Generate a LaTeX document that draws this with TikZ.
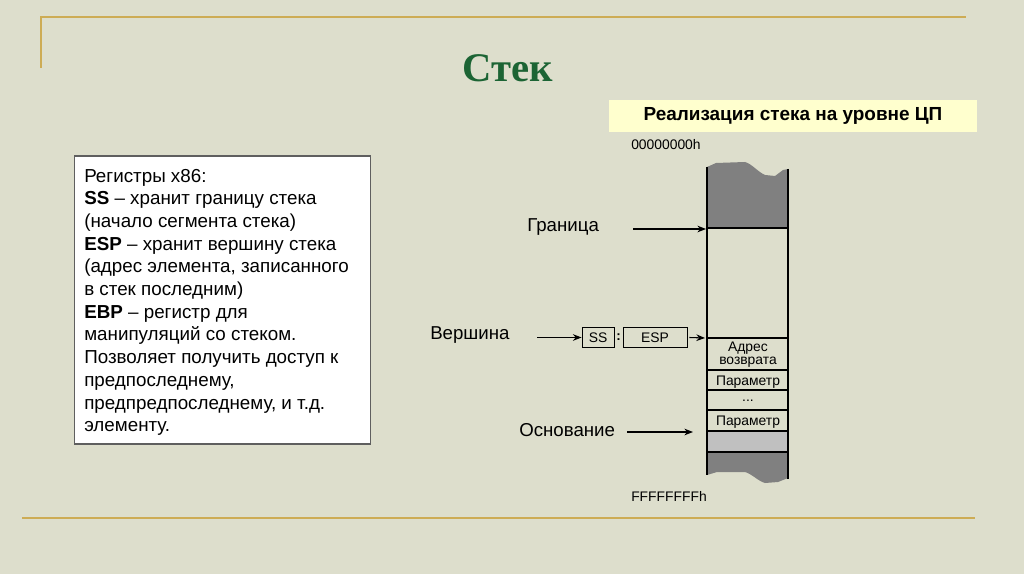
\documentclass[tikz,border=0pt]{standalone}
\usepackage{fontspec}
\setmainfont{Liberation Sans}
\newfontfamily\serifb{Liberation Serif}
\usetikzlibrary{arrows.meta}
\definecolor{bg}{RGB}{221,222,204}
\definecolor{gold}{RGB}{205,172,85}
\definecolor{ttl}{RGB}{28,100,52}
\definecolor{hdr}{RGB}{255,255,206}
\definecolor{dgray}{RGB}{128,128,128}
\definecolor{lgray}{RGB}{192,192,192}
\definecolor{bord}{RGB}{95,95,95}
\tikzset{
  txt/.style={anchor=base west,inner sep=0pt,font=\fontsize{14.1}{16}\selectfont},
  lbl/.style={anchor=base west,inner sep=0pt,font=\fontsize{14}{16}\selectfont},
  small/.style={inner sep=0pt,font=\fontsize{10.4}{12}\selectfont},
  arr/.style={-{Stealth[length=6.5pt,width=5pt]},line width=0.8pt},
  goldline/.style={draw=gold,line width=1.6pt},
  cell/.style={line width=0.8pt},
  regbox/.style={draw,line width=0.7pt,minimum height=15.5pt,inner sep=0pt,font=\fontsize{10.4}{12}\selectfont}
}
\begin{document}
\begin{tikzpicture}[x=0.75pt,y=-0.75pt]
\fill[bg] (0,0) rectangle (1024,574);
\useasboundingbox (0,0) rectangle (1024,574);
% gold lines
\draw[goldline] (41,68) -- (41,17) -- (966,17);
\draw[goldline] (22,518) -- (975,518);
% title
\node[inner sep=0pt,text=ttl,font=\serifb\bfseries\fontsize{30.5}{32}\selectfont] (title) at (508,68) {Стек};
% header
\node[fill=hdr,minimum width=276pt,minimum height=23.5pt,inner sep=0pt,font=\bfseries\fontsize{14.2}{16}\selectfont] (hdr) at (793,116) {Реализация стека на уровне ЦП};
% left box
\node[draw=bord,fill=white,line width=0.8pt,minimum width=221.5pt,minimum height=216pt,inner sep=0pt] (box) at (222.5,300) {};
\node[txt] (l1) at (84,182) {Регистры x86:};
\node[txt] (l2) at (84,204.7) {\textbf{SS} -- хранит границу стека};
\node[txt] (l3) at (84,227.4) {(начало сегмента стека)};
\node[txt] (l4) at (84,250.1) {\textbf{ESP} -- хранит вершину стека};
\node[txt] (l5) at (84,272.8) {(адрес элемента, записанного};
\node[txt] (l6) at (84,295.5) {в стек последним)};
\node[txt] (l7) at (84,318.2) {\textbf{EBP} -- регистр для};
\node[txt] (l8) at (84,340.9) {манипуляций со стеком.};
\node[txt] (l9) at (84,363.6) {Позволяет получить доступ к};
\node[txt] (l10) at (84,386.3) {предпоследнему,};
\node[txt] (l11) at (84,409) {предпредпоследнему, и т.д.};
\node[txt] (l12) at (84,431.7) {элементу.};
% addresses
\node[small,anchor=base west] (a0) at (631,150) {00000000h};
\node[small,anchor=base west] (af) at (631,501) {FFFFFFFFh};
% stack column
\fill[dgray] (707,228) -- (707,167) -- (716,163) -- (745,162) .. controls (752,164) and (758,172) .. (765,175) -- (775,176) -- (783,170) -- (788,169) -- (788,228) -- cycle;
\fill[lgray] (707,431) rectangle (788,452);
\fill[dgray] (707,452) -- (707,475) -- (717,472) -- (745,472) .. controls (752,474) and (758,481) .. (765,483) -- (778,482) -- (788,478) -- (788,452) -- cycle;
\draw[cell] (707,167) -- (707,475);
\draw[cell] (788,169) -- (788,479);
\draw[line width=1.2pt] (707,228) -- (788,228);
\foreach \yy in {338,370,390,410,431,452} \draw[cell] (707,\yy) -- (788,\yy);
\coordinate (top) at (706,229);
\coordinate (esp) at (705,338);
\coordinate (base) at (693,432);
\node[small,anchor=base] (c1a) at (748,351) {Адрес};
\node[small,anchor=base] (c1b) at (748,364) {возврата};
\node[small,anchor=base] (c2) at (748,385) {Параметр};
\node[small,anchor=base] (c3) at (748,401) {...};
\node[small,anchor=base] (c4) at (748,425) {Параметр};
% labels
\node[lbl] (gr) at (527,231) {Граница};
\node[lbl] (ve) at (430,339) {Вершина};
\node[lbl] (os) at (519,436.5) {Основание};
\coordinate (grs) at (633,229);
\coordinate (ves) at (537,337.5);
\coordinate (oss) at (627,432);
% registers
\node[regbox,minimum width=24pt] (ss) at (598,337.5) {SS};
\node[regbox,minimum width=48pt] (espb) at (655,337.5) {ESP};
\node[inner sep=0pt,font=\bfseries\fontsize{10}{11}\selectfont] (colon) at (618.5,337) {:};
% arrows
\draw[arr] (grs) -- (top);
\draw[arr] (ves) -- (ss.west);
\draw[arr] (espb.east) ++(2,0) coordinate (espe) (espe) -- (esp);
\draw[arr] (oss) -- (base);
\end{tikzpicture}
\end{document}
